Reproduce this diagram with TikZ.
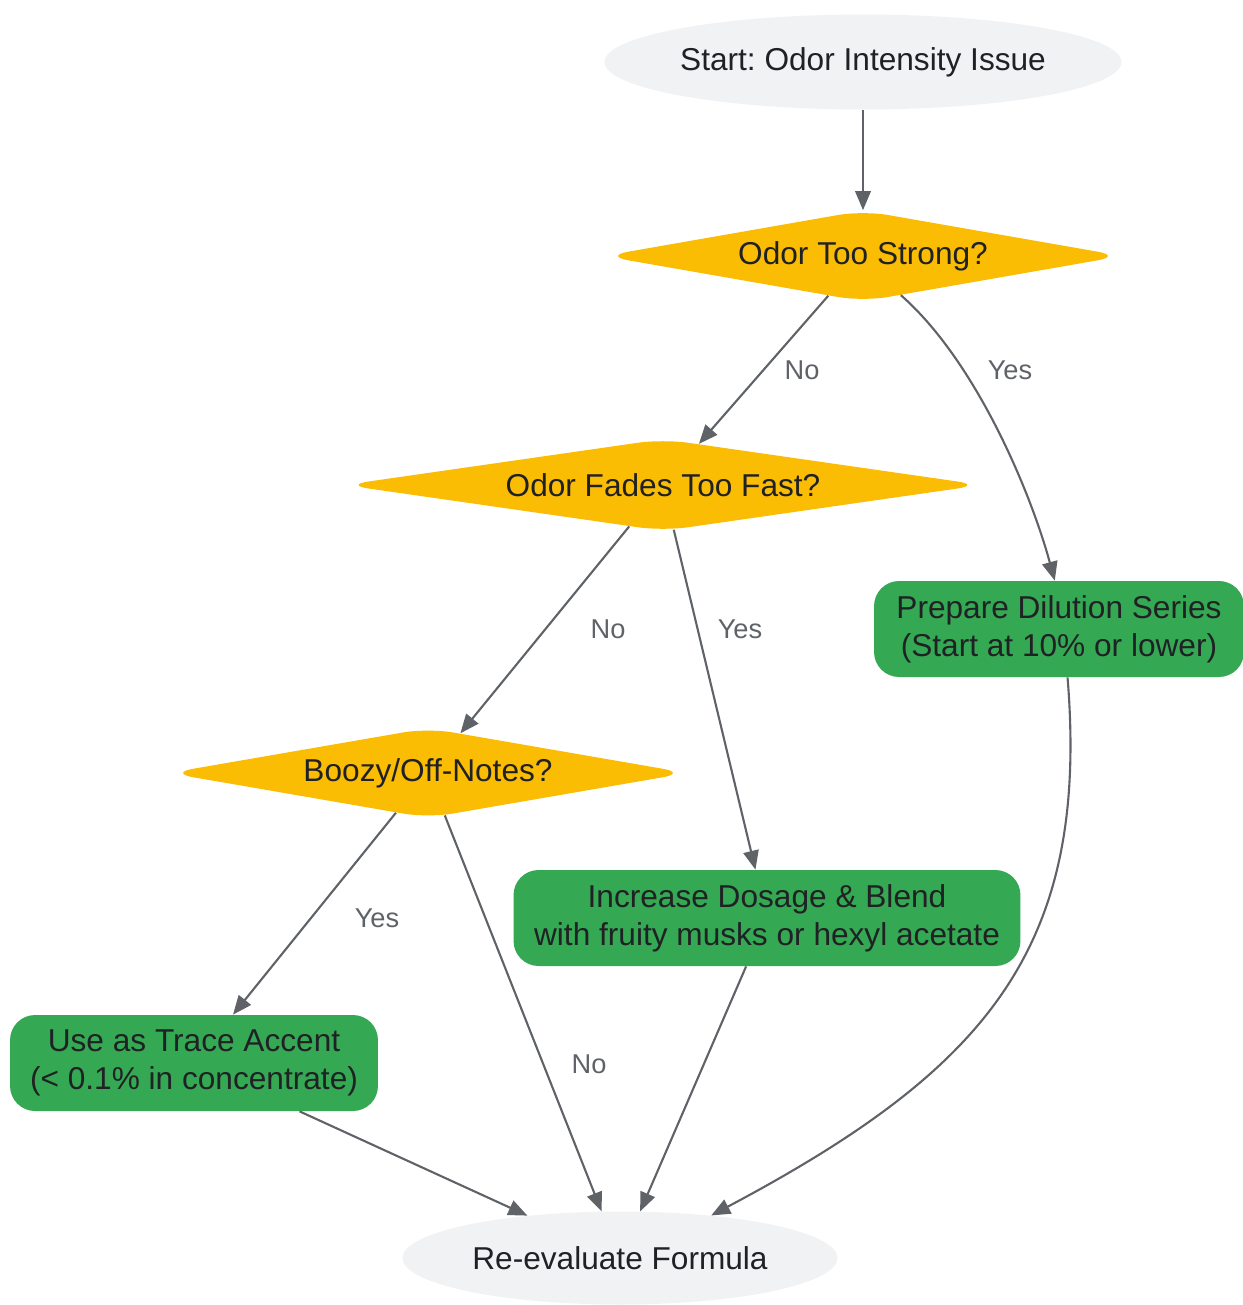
\documentclass[tikz,border=0pt]{standalone}
\usepackage{fontspec}
\setmainfont{Liberation Sans}
\frenchspacing
\usetikzlibrary{positioning,shapes.geometric,arrows.meta}
\definecolor{termfill}{HTML}{F1F2F4}
\definecolor{askfill}{HTML}{FBBC04}
\definecolor{dofill}{HTML}{34A853}
\definecolor{inktext}{HTML}{202124}
\definecolor{wire}{HTML}{5F6368}

\begin{document}
\begin{tikzpicture}[x=0.02cm, y=-0.02cm,
	term/.style={ellipse, fill=termfill, inner sep=0pt, text=inktext,
		font=\fontsize{18pt}{21.6pt}\selectfont},
	ask/.style={diamond, aspect=6, fill=askfill, inner sep=0pt, rounded corners=0.5cm,
		text=inktext, font=\fontsize{18pt}{21.6pt}\selectfont},
	act/.style={rectangle, fill=dofill, rounded corners=0.5cm, align=center,
		inner sep=0pt, minimum height=1.92cm, text=inktext,
		font=\fontsize{18pt}{21.6pt}\selectfont},
	lbl/.style={text=wire, inner sep=1pt, font=\fontsize{15.5pt}{18pt}\selectfont},
	edge/.style={draw=wire, line width=1.2pt,
		-{Triangle[length=0.38cm,width=0.31cm]}}]

	\useasboundingbox (0,0) rectangle (1242,1305);

	% terminals
	\node[term, minimum width=10.3cm, minimum height=1.9cm] (start) at (863,62)
		{Start: Odor Intensity Issue};
	\node[term, minimum width=8.7cm, minimum height=1.86cm] (re) at (620,1258)
		{Re-evaluate Formula};

	% questions
	\node[ask, minimum width=10.38cm, minimum height=1.82cm] (q1) at (863,256)
		{Odor Too Strong?};
	\node[ask, minimum width=12.76cm, minimum height=1.84cm] (q2) at (663,485)
		{Odor Fades Too Fast?};
	\node[ask, minimum width=10.38cm, minimum height=1.8cm] (q3) at (428,773)
		{Boozy/Off-Notes?};

	% actions
	\node[act, minimum width=7.4cm] (dil) at (1059,629)
		{Prepare Dilution Series\\(Start at 10\% or lower)};
	\node[act, minimum width=10.14cm] (inc) at (767,918)
		{Increase Dosage \& Blend\\with fruity musks or hexyl acetate};
	\node[act, minimum width=7.36cm] (trace) at (194,1063)
		{Use as Trace Accent\\(< 0.1\% in concentrate)};

	% connectors
	\draw[edge] (start) -- (q1);
	\draw[edge] (q1) -- (q2);
	\draw[edge] (q1.-46) .. controls (975,360) and (1030,490) .. (dil.95);
	\draw[edge] (q2) -- (q3);
	\draw[edge] (q2) -- (inc);
	\draw[edge] (q3) -- (trace);
	\draw[edge] (q3) -- (re);
	\draw[edge] (inc) -- (re);
	\draw[edge] (trace) -- (re);
	\draw[edge] (dil.-80) .. controls (1090,950) and (985,1070) .. (re.25);

	% labels
	\node[lbl] (n1) at (802,370) {No};
	\node[lbl] (y1) at (1010,370) {Yes};
	\node[lbl] (n2) at (608,629) {No};
	\node[lbl] (y2) at (740,629) {Yes};
	\node[lbl] (y3) at (377,918) {Yes};
	\node[lbl] (n3) at (589,1064) {No};

\end{tikzpicture}
\end{document}
